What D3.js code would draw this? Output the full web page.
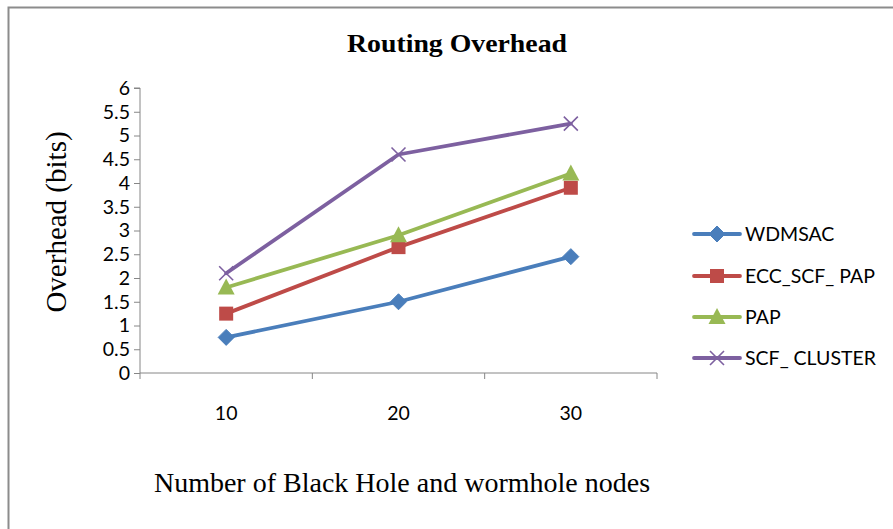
<!DOCTYPE html>
<html><head><meta charset="utf-8">
<script src="https://cdn.jsdelivr.net/npm/d3@7"></script>
<style>body{margin:0;background:#fff}svg{display:block}</style>
</head><body>
<script>
const categories = ["10", "20", "30"];
const seriesNames = ["WDMSAC", "ECC_SCF_ PAP", "PAP", "SCF_ CLUSTER"];
const wdmsac = [0.75, 1.5, 2.45];
const eccScfPap = [1.25, 2.65, 3.9];
const pap = [1.8, 2.9, 4.2];
const scfCluster = [2.1, 4.6, 5.25];
const yTicks = [0, 0.5, 1, 1.5, 2, 2.5, 3, 3.5, 4, 4.5, 5, 5.5, 6];
const colors = ["#4A7EBB", "#BE4B48", "#98B954", "#7D60A0"];
const markers = ["diamond", "square", "triangle", "x"];

const W = 893, H = 529;
const svg = d3.select("body").append("svg").attr("width", W).attr("height", H);
svg.append("rect").attr("width", W).attr("height", H).attr("fill", "#fff");
svg.append("path").attr("d", `M8.5,${H} L8.5,7.5 L${W},7.5`).attr("fill","none").attr("stroke","#8c8c8c").attr("stroke-width",2);

const L = 140, R = 657, T = 88, B = 373;
const x = d3.scaleBand().domain(categories).range([L, R]).padding(0);
const y = d3.scaleLinear().domain([0, 6]).range([B, T]);

const tickFont = "Lato, 'Open Sans', sans-serif";
const serif = "'Liberation Serif', 'Times New Roman', serif";
const yAxis = svg.append("g").attr("transform", `translate(${L},0)`)
  .call(d3.axisLeft(y).tickValues(yTicks).tickSize(6).tickFormat(d3.format("")));
yAxis.select(".domain").attr("stroke", "#868686").attr("d", `M-6,${T}H0V${B}`);
yAxis.selectAll(".tick line").attr("stroke", "#868686");
yAxis.selectAll(".tick text").attr("font-family", tickFont).attr("font-size", 19.5).attr("fill", "#000").attr("x", -10);

const xAxis = svg.append("g").attr("transform", `translate(0,${B})`)
  .call(d3.axisBottom(x).tickSize(0).tickFormat(d => d));
xAxis.select(".domain").attr("stroke", "#868686").attr("d", `M${L},0H${R}`);
xAxis.selectAll(".tick text").attr("font-family", tickFont).attr("font-size", 19.5).attr("fill", "#000").attr("dy", "0").attr("y", 47);
const bounds = categories.map(c => x(c)).concat([R]);
svg.append("g").selectAll("line").data(bounds).join("line")
  .attr("x1", d => d).attr("x2", d => d).attr("y1", B).attr("y2", B + 6)
  .attr("stroke", "#868686");

const data = [wdmsac, eccScfPap, pap, scfCluster];
const cx = c => x(c) + x.bandwidth() / 2;

function drawMarker(g, type, color, px, py) {
  if (type === "diamond") {
    g.append("path").attr("d", `M${px},${py-8}L${px+8},${py}L${px},${py+8}L${px-8},${py}Z`).attr("fill", color).attr("stroke", color).attr("stroke-width", 1);
  } else if (type === "square") {
    g.append("rect").attr("x", px-7).attr("y", py-7).attr("width", 14).attr("height", 14).attr("fill", color);
  } else if (type === "triangle") {
    g.append("path").attr("d", `M${px},${py-9}L${px+8.5},${py+7}L${px-8.5},${py+7}Z`).attr("fill", color);
  } else {
    g.append("path").attr("d", `M${px-7},${py-7}L${px+7},${py+7}M${px-7},${py+7}L${px+7},${py-7}`).attr("stroke", color).attr("stroke-width", 1.6).attr("fill","none");
  }
}

const line = d3.line().x((d, i) => cx(categories[i])).y(d => y(d));
data.forEach((vals, si) => {
  const g = svg.append("g");
  g.append("path").datum(vals).attr("d", line).attr("fill", "none")
    .attr("stroke", colors[si]).attr("stroke-width", 3.8).attr("stroke-linejoin", "round").attr("stroke-linecap","round");
  vals.forEach((v, i) => drawMarker(g, markers[si], colors[si], cx(categories[i]), y(v)));
});

const legY = [234, 276, 317, 358];
seriesNames.forEach((n, i) => {
  const g = svg.append("g");
  g.append("line").attr("x1", 694).attr("x2", 740).attr("y1", legY[i]).attr("y2", legY[i])
    .attr("stroke", colors[i]).attr("stroke-width", 3.8).attr("stroke-linecap","round");
  drawMarker(g, markers[i], colors[i], 717, legY[i]);
  g.append("text").attr("x", 745).attr("y", legY[i]).attr("dy", "0.35em")
    .attr("font-family", tickFont).attr("font-size", 19.5).attr("fill", "#000").text(n);
});

svg.append("text").attr("x", 457).attr("y", 52).attr("text-anchor", "middle")
  .attr("font-family", serif).attr("font-weight", "bold")
  .attr("font-size", 25).attr("textLength", 220).attr("lengthAdjust","spacingAndGlyphs").text("Routing Overhead");
svg.append("text").attr("transform", `translate(66,222) rotate(-90)`).attr("text-anchor", "middle")
  .attr("font-family", serif).attr("font-size", 29).text("Overhead (bits)");
svg.append("text").attr("x", 402).attr("y", 492).attr("text-anchor", "middle")
  .attr("font-family", serif).attr("font-size", 28).text("Number of Black Hole and wormhole nodes");
</script>
</body></html>
